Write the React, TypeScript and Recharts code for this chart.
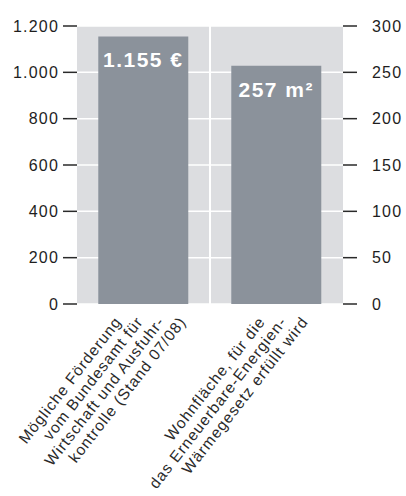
import React from 'react';
import {
  BarChart,
  Bar,
  XAxis,
  YAxis,
  CartesianGrid,
  ReferenceLine,
} from 'recharts';

// categories and values
const categories = ['foerderung', 'wohnflaeche'];
const categoryLines = [
  ['Mögliche Förderung', 'vom Bundesamt für', 'Wirtschaft und Ausfuhr-', 'kontrolle (Stand 07/08)'],
  ['Wohnfläche, für die', 'das Erneuerbare-Energien-', 'Wärmegesetz erfüllt wird'],
];
const euroValues = [1155, null];
const areaValues = [null, 257];
const valueLabels = ['1.155 €', '257 m²'];
const leftTicks = [0, 200, 400, 600, 800, 1000, 1200];
const rightTicks = [0, 50, 100, 150, 200, 250, 300];

const data = categories.map((name, i) => ({
  name,
  euro: euroValues[i],
  area: areaValues[i],
}));

const FONT = '"Liberation Sans", Arial, Helvetica, sans-serif';
const BG = '#dcdde0';
const BAR = '#8b929b';
const INK = '#1e1e1e';

const thousands = (v: number) => String(v).replace(/\B(?=(\d{3})+(?!\d))/g, '.');

function CategoryTick(props: any) {
  const { x, y, payload } = props;
  const lines: string[] = categoryLines[payload.index] || [];
  const n = lines.length;
  return (
    <g>
      {lines.map((line, i) => {
        const ax = x + 11 + (i - (n - 1) / 2) * 21.5;
        const ay = y - 20;
        return (
          <text
            key={i}
            x={ax}
            y={ay}
            textAnchor="end"
            transform={`rotate(-52, ${ax}, ${ay})`}
            fill="#2a2a2a"
            fontFamily={FONT}
            fontSize={15.5}
            letterSpacing={1}
          >
            {line}
          </text>
        );
      })}
    </g>
  );
}

function ValueLabel(props: any) {
  const { x, y, width, value, values } = props;
  if (value == null) return null;
  const i = values.indexOf(value);
  return (
    <text
      x={x + width / 2}
      y={y + 31}
      textAnchor="middle"
      fill="#ffffff"
      fontFamily={FONT}
      fontWeight="bold"
      fontSize={21}
      letterSpacing={1.5}
    >
      {valueLabels[i]}
    </text>
  );
}

export default function App() {
  return (
    <div style={{ position: 'absolute', left: 0, top: 0 }}>
      <BarChart
        width={406}
        height={496}
        data={data}
        margin={{ top: 26, right: 0, bottom: 0, left: 0 }}
        barCategoryGap="16%"
      >
        <CartesianGrid
          xAxisId="main"
          yAxisId="left"
          vertical={false}
          fill={BG}
          fillOpacity={1}
          stroke="#ffffff"
          strokeWidth={1.5}
        />
        <XAxis
          xAxisId="main"
          dataKey="name"
          height={192}
          axisLine={false}
          tickLine={false}
          interval={0}
          tick={<CategoryTick />}
        />
        <XAxis xAxisId="alt" dataKey="name" hide />
        <YAxis
          yAxisId="left"
          orientation="left"
          width={77}
          domain={[0, 1200]}
          ticks={leftTicks}
          interval={0}
          axisLine={false}
          tickSize={14}
          tickMargin={4}
          tickLine={{ stroke: '#2a2a2a', strokeWidth: 1.5 }}
          tickFormatter={thousands}
          tick={{ fill: INK, fontSize: 16, fontFamily: FONT, letterSpacing: 1.2 }}
        />
        <YAxis
          yAxisId="right"
          orientation="right"
          width={63}
          domain={[0, 300]}
          ticks={rightTicks}
          interval={0}
          axisLine={false}
          tickSize={14}
          tickMargin={15}
          tickLine={{ stroke: '#2a2a2a', strokeWidth: 1.5 }}
          tick={{ fill: INK, fontSize: 16, fontFamily: FONT, letterSpacing: 1.2, textAnchor: 'start' }}
        />
        <ReferenceLine
          xAxisId="main"
          yAxisId="left"
          x={categories[1]}
          position="start"
          stroke="#ffffff"
          strokeWidth={2}
        />
        <Bar
          xAxisId="main"
          yAxisId="left"
          dataKey="euro"
          fill={BAR}
          isAnimationActive={false}
          label={<ValueLabel values={euroValues} />}
        />
        <Bar
          xAxisId="alt"
          yAxisId="right"
          dataKey="area"
          fill={BAR}
          isAnimationActive={false}
          label={<ValueLabel values={areaValues} />}
        />
      </BarChart>
    </div>
  );
}
